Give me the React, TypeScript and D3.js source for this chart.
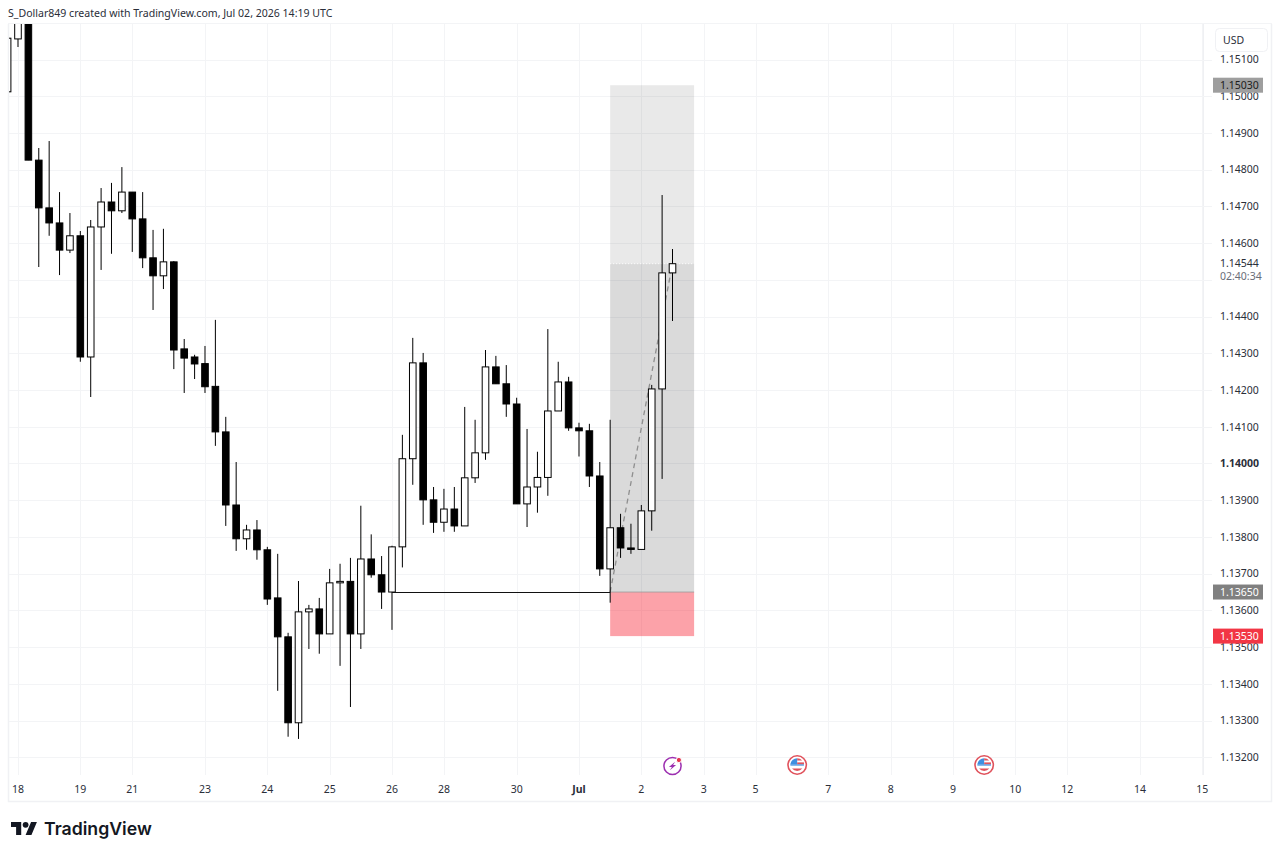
import * as d3 from "d3";
import React, { useEffect, useRef } from "react";

const W = 1280;
const H = 856;

// OHLC per bar. First two bars run past the top of the pane.
const opens = [
  1.15012, 1.15156, 1.1522, 1.14826, 1.14696, 1.14655, 1.14581, 1.1462, 1.1429, 1.14644, 1.14712, 1.14688, 1.14739,
  1.14666, 1.1456, 1.14511, 1.14549, 1.14312, 1.1429, 1.14272, 1.1421, 1.14086, 1.13887, 1.13795, 1.13819, 1.13765,
  1.13634, 1.13528, 1.13294, 1.13596, 1.13604, 1.13536, 1.13675, 1.13679, 1.13536, 1.1374, 1.13697, 1.1365, 1.13773,
  1.14013, 1.14274, 1.13901, 1.1384, 1.13876, 1.1383, 1.13961, 1.14029, 1.14263, 1.14217, 1.14162, 1.1389, 1.13936,
  1.13962, 1.14143, 1.14222, 1.14097, 1.14089, 1.13966, 1.13713, 1.13825, 1.1377, 1.13766, 1.13871, 1.14203, 1.14519,
];
const highs = [
  1.15158, 1.1522, 1.1523, 1.14859, 1.14878, 1.14739, 1.14682, 1.14633, 1.14663, 1.1475, 1.14764, 1.14807, 1.14739,
  1.14739, 1.14636, 1.14639, 1.14551, 1.14339, 1.14296, 1.1432, 1.14391, 1.14127, 1.14004, 1.13833, 1.13846, 1.13773,
  1.13754, 1.13539, 1.1368, 1.13615, 1.13634, 1.13713, 1.13727, 1.13743, 1.13885, 1.13807, 1.13748, 1.13776, 1.14078,
  1.14342, 1.14301, 1.13936, 1.13931, 1.13936, 1.14154, 1.14119, 1.14309, 1.14293, 1.14268, 1.14179, 1.14094, 1.14032,
  1.14366, 1.14277, 1.14236, 1.14111, 1.14108, 1.14004, 1.14119, 1.13863, 1.13836, 1.13887, 1.14214, 1.14731, 1.14584,
];
const lows = [
  1.15012, 1.15134, 1.14826, 1.14535, 1.1462, 1.14513, 1.14573, 1.14277, 1.14181, 1.14527, 1.14571, 1.14682, 1.14576,
  1.14532, 1.14418, 1.14475, 1.14257, 1.14192, 1.1423, 1.14192, 1.14048, 1.1383, 1.13762, 1.13765, 1.13738, 1.13615,
  1.13381, 1.13256, 1.1325, 1.13495, 1.13482, 1.13536, 1.13449, 1.13337, 1.13495, 1.13689, 1.13604, 1.13547, 1.13717,
  1.13942, 1.13833, 1.13811, 1.13814, 1.13814, 1.1383, 1.13947, 1.1401, 1.14217, 1.14127, 1.1389, 1.13827, 1.13866,
  1.13912, 1.14143, 1.14089, 1.14019, 1.13936, 1.13694, 1.13621, 1.13743, 1.13754, 1.13766, 1.13817, 1.13958, 1.14388,
];
const closes = [
  1.15158, 1.1522, 1.14826, 1.14696, 1.14655, 1.14581, 1.1462, 1.1429, 1.14644, 1.14712, 1.14688, 1.14739, 1.14666,
  1.1456, 1.14511, 1.14549, 1.14309, 1.14287, 1.14271, 1.14209, 1.14086, 1.13887, 1.13795, 1.13819, 1.13765, 1.13631,
  1.13528, 1.13294, 1.13596, 1.13604, 1.13536, 1.13675, 1.13679, 1.13536, 1.1374, 1.13697, 1.1365, 1.13773, 1.14013,
  1.14274, 1.13901, 1.1384, 1.13876, 1.1383, 1.13961, 1.14029, 1.14263, 1.14217, 1.14162, 1.1389, 1.13936, 1.13962,
  1.14143, 1.14222, 1.14097, 1.14089, 1.13966, 1.13713, 1.13825, 1.1377, 1.13766, 1.13871, 1.14203, 1.14519, 1.14544,
];

const priceTicks = [
  1.151, 1.15, 1.149, 1.148, 1.147, 1.146, 1.145, 1.144, 1.143, 1.142, 1.141, 1.14, 1.139, 1.138, 1.137, 1.136, 1.135,
  1.134, 1.133, 1.132,
];
// 1.14500 has a grid line but its label gives way to the countdown
const hiddenPriceLabels = [1.145];
const timeTickBars = [1, 7, 12, 19, 25, 31, 37, 42, 49, 55, 61, 67, 72, 79, 85, 91, 97, 102, 109, 115];
const timeTickLabels = [
  "18", "19", "21", "23", "24", "25", "26", "28", "30", "Jul", "2", "3", "5", "7", "8", "9", "10", "12", "14", "15",
];

// long position drawing
const targetPrice = 1.1503;
const entryPrice = 1.1365;
const stopPrice = 1.1353;
const lastPrice = 1.14544;
const positionStartBar = 58;
const positionEndBar = 66.08;
const lineStartBar = 37;
const lastBar = 64;

const eventBars = [64];
const usEventBars = [76, 94];

const FONT = "'Noto Sans', sans-serif";

export default function App() {
  const ref = useRef<SVGSVGElement | null>(null);

  useEffect(() => {
    const svg = d3.select(ref.current);
    svg.selectAll("*").remove();

    const pane = { left: 9, right: 1204, top: 24, bottom: 775 };
    const x = d3.scaleLinear().domain([0, lastBar]).range([7.6, 672.5]);
    const y = d3.scaleLinear().domain([1.132, 1.151]).range([757.3, 59.5]);
    const bars = d3.range(opens.length);

    svg
      .append("clipPath")
      .attr("id", "pane")
      .append("rect")
      .attr("x", pane.left)
      .attr("y", pane.top)
      .attr("width", pane.right - pane.left)
      .attr("height", pane.bottom - pane.top);

    // frame
    svg
      .append("path")
      .attr("d", `M8.5 24V801.5H1271.5V24`)
      .attr("fill", "none")
      .attr("stroke", "#f0f1f4")
      .attr("stroke-width", 1.5);
    svg
      .append("line")
      .attr("x1", 8)
      .attr("x2", 1272)
      .attr("y1", 23.5)
      .attr("y2", 23.5)
      .attr("stroke", "#f3f4f6");
    svg
      .append("line")
      .attr("x1", pane.right - 0.5)
      .attr("x2", pane.right - 0.5)
      .attr("y1", pane.top)
      .attr("y2", pane.bottom)
      .attr("stroke", "#eff0f3");

    // grid
    const grid = svg.append("g").attr("stroke", "#f3f4f6").attr("stroke-width", 1);
    grid
      .selectAll("line.h")
      .data(priceTicks)
      .join("line")
      .attr("class", "h")
      .attr("x1", pane.left)
      .attr("x2", 1212)
      .attr("y1", (d) => Math.round(y(d)) + 0.5)
      .attr("y2", (d) => Math.round(y(d)) + 0.5);
    grid
      .selectAll("line.v")
      .data(timeTickBars)
      .join("line")
      .attr("class", "v")
      .attr("x1", (d) => Math.round(x(d)) + 0.5)
      .attr("x2", (d) => Math.round(x(d)) + 0.5)
      .attr("y1", pane.top)
      .attr("y2", pane.bottom);

    // position zones
    const zoneX = x(positionStartBar);
    const zoneW = x(positionEndBar) - x(positionStartBar);
    const zones = [
      { from: targetPrice, to: lastPrice, fill: "rgba(0,0,0,0.085)" },
      { from: lastPrice, to: entryPrice, fill: "rgba(0,0,0,0.145)" },
      { from: entryPrice, to: stopPrice, fill: "rgba(248,22,40,0.4)" },
    ];
    svg
      .append("g")
      .selectAll("rect")
      .data(zones)
      .join("rect")
      .attr("x", zoneX)
      .attr("width", zoneW)
      .attr("y", (d) => y(d.from))
      .attr("height", (d) => y(d.to) - y(d.from))
      .attr("fill", (d) => d.fill);
    svg
      .append("line")
      .attr("x1", zoneX)
      .attr("x2", zoneX + zoneW)
      .attr("y1", y(lastPrice))
      .attr("y2", y(lastPrice))
      .attr("stroke", "#fff")
      .attr("stroke-dasharray", "1 2");
    svg
      .append("line")
      .attr("x1", zoneX)
      .attr("x2", zoneX + zoneW)
      .attr("y1", y(entryPrice))
      .attr("y2", y(entryPrice))
      .attr("stroke", "#9a9a9a")
      .attr("stroke-width", 0.8);

    // dashed path from entry to last price
    svg
      .append("line")
      .attr("x1", zoneX)
      .attr("y1", y(entryPrice))
      .attr("x2", x(lastBar))
      .attr("y2", y(lastPrice))
      .attr("stroke", "#8f8f8f")
      .attr("stroke-width", 1.3)
      .attr("stroke-dasharray", "5 4");

    // candles
    const candles = svg.append("g").attr("clip-path", "url(#pane)");
    candles
      .selectAll("line.wick")
      .data(bars)
      .join("line")
      .attr("class", "wick")
      .attr("x1", (i) => x(i))
      .attr("x2", (i) => x(i))
      .attr("y1", (i) => y(highs[i]))
      .attr("y2", (i) => y(lows[i]))
      .attr("stroke", "#000")
      .attr("stroke-width", 1);
    candles
      .selectAll("rect.body")
      .data(bars)
      .join("rect")
      .attr("class", "body")
      .attr("x", (i) => x(i) - 3.3)
      .attr("width", 6.6)
      .attr("y", (i) => y(Math.max(opens[i], closes[i])))
      .attr("height", (i) => Math.abs(y(opens[i]) - y(closes[i])))
      .attr("fill", (i) => (closes[i] >= opens[i] ? "#fff" : "#000"))
      .attr("stroke", "#000")
      .attr("stroke-width", 1);

    // entry line sits on top of the bars
    svg
      .append("line")
      .attr("x1", x(lineStartBar))
      .attr("x2", zoneX)
      .attr("y1", Math.round(y(entryPrice)) + 0.5)
      .attr("y2", Math.round(y(entryPrice)) + 0.5)
      .attr("stroke", "#111")
      .attr("stroke-width", 1);

    // price axis
    svg
      .append("g")
      .selectAll("text")
      .data(priceTicks.filter((d) => !hiddenPriceLabels.includes(d)))
      .join("text")
      .attr("x", 1220)
      .attr("y", (d) => y(d))
      .attr("dy", "0.36em")
      .attr("font-family", FONT)
      .attr("font-size", 10.5)
      .attr("font-weight", (d) => (d === 1.14 ? 700 : 400))
      .attr("fill", "#2a2e39")
      .text((d) => d.toFixed(5));

    const tags = [
      { price: targetPrice, fill: "#9e9e9e", color: "#1c1c1c" },
      { price: entryPrice, fill: "#808080", color: "#fff" },
      { price: stopPrice, fill: "#f23645", color: "#fff" },
    ];
    const tag = svg.append("g").selectAll("g").data(tags).join("g");
    tag
      .append("rect")
      .attr("x", 1213)
      .attr("width", 50)
      .attr("y", (d) => y(d.price) - 7.5)
      .attr("height", 15)
      .attr("fill", (d) => d.fill);
    tag
      .append("text")
      .attr("x", 1220)
      .attr("y", (d) => y(d.price))
      .attr("dy", "0.36em")
      .attr("font-family", FONT)
      .attr("font-size", 10.5)
      .attr("fill", (d) => d.color)
      .text((d) => d.price.toFixed(5));

    svg
      .append("text")
      .attr("x", 1220)
      .attr("y", y(lastPrice))
      .attr("dy", "0.36em")
      .attr("font-family", FONT)
      .attr("font-size", 10.5)
      .attr("fill", "#2a2e39")
      .text(lastPrice.toFixed(5));
    svg
      .append("text")
      .attr("x", 1220)
      .attr("y", y(lastPrice) + 13)
      .attr("dy", "0.36em")
      .attr("font-family", FONT)
      .attr("font-size", 10.5)
      .attr("fill", "#6a6d78")
      .text("02:40:34");

    // USD chip
    svg
      .append("rect")
      .attr("x", 1215.5)
      .attr("y", 28.5)
      .attr("width", 52)
      .attr("height", 23)
      .attr("rx", 4)
      .attr("fill", "#fff")
      .attr("stroke", "#f0f1f4");
    svg
      .append("text")
      .attr("x", 1223)
      .attr("y", 40)
      .attr("dy", "0.36em")
      .attr("font-family", FONT)
      .attr("font-size", 10.5)
      .attr("fill", "#2a2e39")
      .text("USD");

    // time axis
    svg
      .append("g")
      .selectAll("text")
      .data(timeTickBars)
      .join("text")
      .attr("x", (d) => x(d))
      .attr("y", 789)
      .attr("dy", "0.36em")
      .attr("text-anchor", "middle")
      .attr("font-family", FONT)
      .attr("font-size", 10.5)
      .attr("font-weight", (_, i) => (timeTickLabels[i] === "Jul" ? 700 : 400))
      .attr("fill", "#2a2e39")
      .text((_, i) => timeTickLabels[i]);

    // event markers under the bars
    const bolt = svg.append("g").selectAll("g").data(eventBars).join("g").attr("transform", (d) => `translate(${x(d)},766)`);
    bolt.append("circle").attr("r", 8.6).attr("fill", "#fff").attr("stroke", "#9c2fb0").attr("stroke-width", 1.5);
    bolt.append("path").attr("d", "M2.6-4.2L-3.6 1H-.6L-2.6 4.2L3.6-1H.6Z").attr("fill", "#9c2fb0");
    bolt.append("circle").attr("cx", 6.4).attr("cy", -6).attr("r", 2.6).attr("fill", "#e5344f").attr("stroke", "#fff");

    const flag = svg.append("g").selectAll("g").data(usEventBars).join("g").attr("transform", (d) => `translate(${x(d)},765)`);
    flag.append("circle").attr("r", 9.2).attr("fill", "#fff").attr("stroke", "#e0525c").attr("stroke-width", 1.6);
    flag.append("path").attr("d", "M-6.8-.6A6.8 6.8 0 0 1 0-6.8V-.6Z").attr("fill", "#3f8fe0");
    flag.append("path").attr("d", "M0-6.8A6.8 6.8 0 0 1 5-4.6H0Z").attr("fill", "#e0525c");
    flag.append("rect").attr("x", 0).attr("y", -2.6).attr("width", 6.8).attr("height", 2).attr("fill", "#e0525c");
    flag.append("rect").attr("x", -6.8).attr("y", -0.6).attr("width", 13.6).attr("height", 1.2).attr("fill", "#3f8fe0");
    flag.append("path").attr("d", "M-5.2 3.6H5.2A6.8 6.8 0 0 1-5.2 3.6Z").attr("fill", "#e0525c");

    // header and logo
    svg
      .append("text")
      .attr("x", 8)
      .attr("y", 13)
      .attr("dy", "0.36em")
      .attr("font-family", FONT)
      .attr("font-size", 10.55)
      .attr("fill", "#2a2e39")
      .text("S_Dollar849 created with TradingView.com, Jul 02, 2026 14:19 UTC");

    const logo = svg.append("g").attr("transform", "translate(11,819) scale(0.73)").attr("fill", "#131722");
    logo.append("path").attr("d", "M14 22H7V11H0V4h14v18ZM28 22h-8l7.5-18h8L28 22Z");
    logo.append("circle").attr("cx", 20).attr("cy", 8).attr("r", 4);
    svg
      .append("text")
      .attr("x", 44)
      .attr("y", 829)
      .attr("dy", "0.36em")
      .attr("font-family", "Inter, sans-serif")
      .attr("font-size", 17.7)
      .attr("font-weight", 600)
      .attr("fill", "#131722")
      .text("TradingView");
  }, []);

  return (
    <svg
      ref={ref}
      width={W}
      height={H}
      style={{ position: "fixed", left: 0, top: 0, background: "#fff" }}
    />
  );
}
